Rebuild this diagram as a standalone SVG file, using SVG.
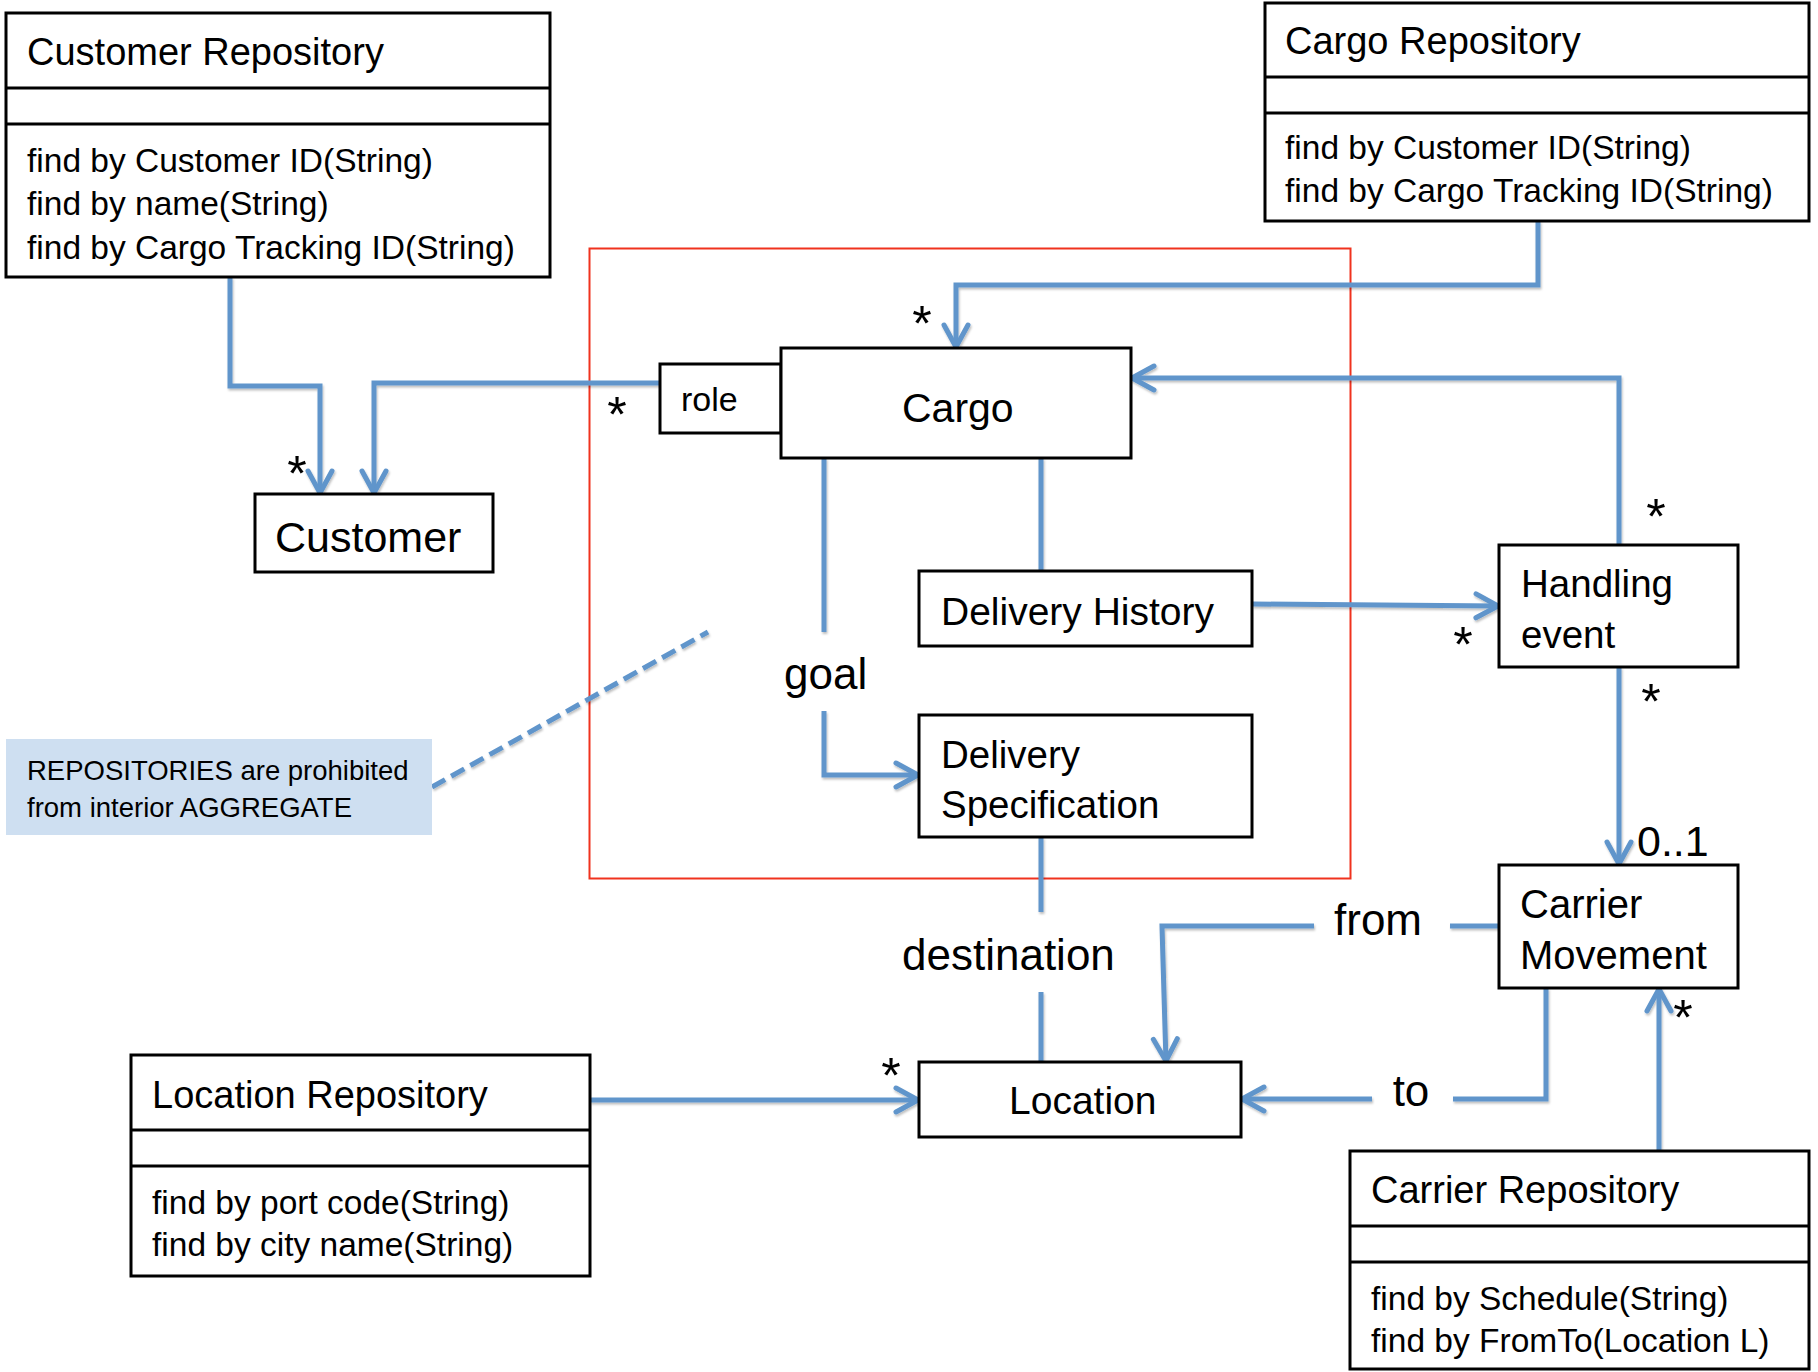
<svg xmlns="http://www.w3.org/2000/svg" width="1818" height="1372" viewBox="0 0 1818 1372">
  <style>
    .box { fill: #ffffff; stroke: #000000; stroke-width: 3; }
    .div { stroke: #000000; stroke-width: 3; }
    .t { font-family: "Liberation Sans", Arial, sans-serif; fill: #000000; }
    .title { font-size: 38px; }
    .op { font-size: 33.5px; }
    .lbl { font-size: 39px; }
    .role { font-size: 34px; }
    .assoc { font-size: 44px; }
    .star { font-size: 50px; text-anchor: middle; }
    .mult { font-size: 43px; }
    .note { font-size: 27.5px; }
    .wire { fill: none; stroke: #6095cb; stroke-width: 5; stroke-linejoin: miter; }
    .arrow { marker-end: url(#open); }
  </style>
  <defs>
    <marker id="open" markerUnits="userSpaceOnUse" markerWidth="40" markerHeight="40" viewBox="-30 -20 40 40" refX="1" refY="0" orient="auto" overflow="visible">
      <path d="M -22 -12 L 0 0 L -22 12" fill="none" stroke="#6095cb" stroke-width="5" stroke-linecap="round" stroke-linejoin="round"/>
    </marker>
    <filter id="shade" x="-5%" y="-5%" width="110%" height="110%">
      <feDropShadow dx="1" dy="2" stdDeviation="1.2" flood-color="#000000" flood-opacity="0.25"/>
    </filter>
  </defs>

  <rect width="1818" height="1372" fill="#ffffff"/>

  <!-- aggregate boundary -->
  <rect id="aggregate" x="589.5" y="248.5" width="761" height="630" fill="none" stroke="#f0321e" stroke-width="2"/>

  <!-- connectors -->
  <g id="connectors" filter="url(#shade)">
    <path class="wire arrow" d="M230 277 V386 H320 V494"/>
    <path class="wire arrow" d="M660 383 H374 V494"/>
    <path class="wire arrow" d="M1538 221 V285 H956 V348"/>
    <path class="wire arrow" d="M1619 545 V378 H1131"/>
    <path class="wire" d="M1041 458 V571"/>
    <path class="wire" d="M824 458 V632"/>
    <path class="wire arrow" d="M824 711 V775 H919"/>
    <path class="wire arrow" d="M1252 604 L1499 606"/>
    <path class="wire arrow" d="M1619 667 V865"/>
    <path class="wire" d="M1041 837 V912"/>
    <path class="wire" d="M1041 992 V1062"/>
    <path class="wire" d="M1499 926 H1450"/>
    <path class="wire arrow" d="M1314 926 H1162 L1166 1062"/>
    <path class="wire" d="M1546 988 V1099 H1453"/>
    <path class="wire arrow" d="M1372 1099 H1241"/>
    <path class="wire arrow" d="M1659 1151 V988"/>
    <path class="wire arrow" d="M590 1100 H919"/>
    <path class="wire" d="M432 787 L708 632" stroke-dasharray="15 7"/>
  </g>

  <!-- association labels and multiplicities -->
  <g id="labels">
    <text class="t assoc" x="784" y="689">goal</text>
    <text class="t assoc" x="902" y="970">destination</text>
    <text class="t assoc" x="1334" y="935">from</text>
    <text class="t assoc" x="1411" y="1106" text-anchor="middle">to</text>
    <text class="t mult" x="1637" y="856">0..1</text>
    <text class="t star" x="297" y="491">*</text>
    <text class="t star" x="617" y="432">*</text>
    <text class="t star" x="922" y="341">*</text>
    <text class="t star" x="1656" y="534">*</text>
    <text class="t star" x="1463" y="662">*</text>
    <text class="t star" x="1651" y="719">*</text>
    <text class="t star" x="1683" y="1035">*</text>
    <text class="t star" x="891" y="1093">*</text>
  </g>

  <!-- repositories -->
  <g id="customer-repository">
    <rect class="box" x="6" y="13" width="544" height="264"/>
    <line class="div" x1="6" y1="88" x2="550" y2="88"/>
    <line class="div" x1="6" y1="124" x2="550" y2="124"/>
    <text class="t title" x="27" y="65">Customer Repository</text>
    <text class="t op" x="27" y="172">find by Customer ID(String)</text>
    <text class="t op" x="27" y="215">find by name(String)</text>
    <text class="t op" x="27" y="259">find by Cargo Tracking ID(String)</text>
  </g>

  <g id="cargo-repository">
    <rect class="box" x="1265" y="3" width="544" height="218"/>
    <line class="div" x1="1265" y1="77" x2="1809" y2="77"/>
    <line class="div" x1="1265" y1="113" x2="1809" y2="113"/>
    <text class="t title" x="1285" y="54">Cargo Repository</text>
    <text class="t op" x="1285" y="159">find by Customer ID(String)</text>
    <text class="t op" x="1285" y="202">find by Cargo Tracking ID(String)</text>
  </g>

  <g id="location-repository">
    <rect class="box" x="131" y="1055" width="459" height="221"/>
    <line class="div" x1="131" y1="1130" x2="590" y2="1130"/>
    <line class="div" x1="131" y1="1166" x2="590" y2="1166"/>
    <text class="t title" x="152" y="1108">Location Repository</text>
    <text class="t op" x="152" y="1214">find by port code(String)</text>
    <text class="t op" x="152" y="1256">find by city name(String)</text>
  </g>

  <g id="carrier-repository">
    <rect class="box" x="1350" y="1151" width="459" height="218"/>
    <line class="div" x1="1350" y1="1226" x2="1809" y2="1226"/>
    <line class="div" x1="1350" y1="1262" x2="1809" y2="1262"/>
    <text class="t title" x="1371" y="1203">Carrier Repository</text>
    <text class="t op" x="1371" y="1310">find by Schedule(String)</text>
    <text class="t op" x="1371" y="1352">find by FromTo(Location L)</text>
  </g>

  <!-- domain objects -->
  <g id="customer">
    <rect class="box" x="255" y="494" width="238" height="78"/>
    <text class="t" x="275" y="552" font-size="43">Customer</text>
  </g>

  <g id="role">
    <rect class="box" x="660" y="364" width="121" height="69"/>
    <text class="t role" x="681" y="411">role</text>
  </g>

  <g id="cargo">
    <rect class="box" x="781" y="348" width="350" height="110"/>
    <text class="t" x="902" y="422" font-size="41">Cargo</text>
  </g>

  <g id="delivery-history">
    <rect class="box" x="919" y="571" width="333" height="75"/>
    <text class="t lbl" x="941" y="625">Delivery History</text>
  </g>

  <g id="delivery-specification">
    <rect class="box" x="919" y="715" width="333" height="122"/>
    <text class="t" x="941" y="768" font-size="38.5">Delivery</text>
    <text class="t" x="941" y="818" font-size="38.5">Specification</text>
  </g>

  <g id="handling-event">
    <rect class="box" x="1499" y="545" width="239" height="122"/>
    <text class="t" x="1521" y="597" font-size="38.5">Handling</text>
    <text class="t" x="1521" y="648" font-size="38.5">event</text>
  </g>

  <g id="carrier-movement">
    <rect class="box" x="1499" y="865" width="239" height="123"/>
    <text class="t" x="1520" y="918" font-size="40">Carrier</text>
    <text class="t" x="1520" y="969" font-size="40">Movement</text>
  </g>

  <g id="location">
    <rect class="box" x="919" y="1062" width="322" height="75"/>
    <text class="t lbl" x="1009" y="1114">Location</text>
  </g>

  <g id="note">
    <rect x="6" y="739" width="426" height="96" fill="#cedff1"/>
    <text class="t note" x="27" y="780">REPOSITORIES are prohibited</text>
    <text class="t note" x="27" y="817">from interior AGGREGATE</text>
  </g>
</svg>
